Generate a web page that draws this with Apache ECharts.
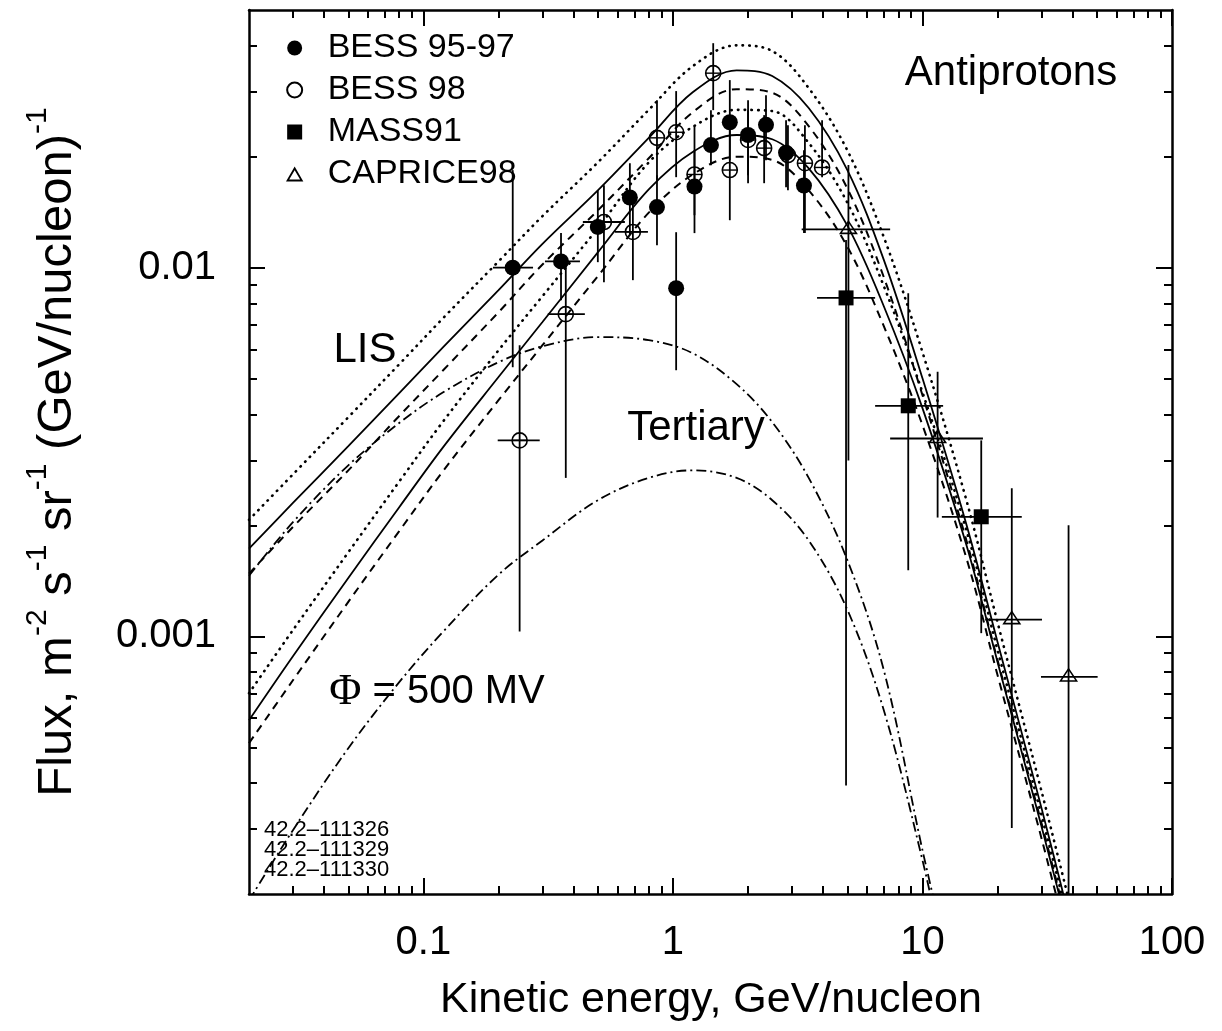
<!DOCTYPE html>
<html>
<head>
<meta charset="utf-8">
<title>Antiprotons</title>
<script src="https://cdn.jsdelivr.net/npm/echarts@6/dist/echarts.min.js"></script>
<style>
  html, body { margin: 0; padding: 0; background: #ffffff; }
  #chart { width: 1222px; height: 1031px; }
</style>
</head>
<body>
<div id="chart"></div>
<script>
// ---- Model curves (flux in m^-2 s^-1 sr^-1 (GeV/nucleon)^-1) ----
const curveEnergy = [0.02, 0.03, 0.05, 0.08, 0.12, 0.2, 0.3, 0.5, 0.8, 1.2, 1.8, 2.5, 3.5, 5, 7, 10, 15, 20, 30, 40];

// local interstellar spectra
const lisDotted = [0.00207, 0.00275, 0.00393, 0.00547, 0.0073, 0.0104, 0.0138, 0.0193, 0.0268, 0.0352, 0.0401, 0.0387, 0.0307, 0.0208, 0.0121, 0.0059, 0.00234, 0.00109, 0.00038, 0.000175];
const lisSolid  = [0.00173, 0.0023, 0.00328, 0.00457, 0.00609, 0.00869, 0.0116, 0.0162, 0.0225, 0.0299, 0.0343, 0.0331, 0.0271, 0.0184, 0.0105, 0.00501, 0.00201, 0.000964, 0.000342, 0.000158];
const lisDashed = [0.00148, 0.00198, 0.00282, 0.00396, 0.00527, 0.00757, 0.0102, 0.0143, 0.0198, 0.0264, 0.0305, 0.0298, 0.0242, 0.0164, 0.00942, 0.00451, 0.00182, 0.000861, 0.000311, 0.000145];

// modulated spectra, Phi = 500 MV
const modDotted = [0.000701, 0.00104, 0.00169, 0.00263, 0.00383, 0.00597, 0.00837, 0.0128, 0.0193, 0.0241, 0.0268, 0.0266, 0.0218, 0.015, 0.00891, 0.00459, 0.00194, 0.000917, 0.000327, 0.000152];
const modSolid  = [0.000592, 0.000883, 0.00144, 0.00224, 0.00326, 0.00505, 0.00712, 0.011, 0.0163, 0.0206, 0.0229, 0.0223, 0.0186, 0.013, 0.00786, 0.00416, 0.00177, 0.000851, 0.000305, 0.000143];
const modDashed = [0.000513, 0.00076, 0.00124, 0.00193, 0.00281, 0.00437, 0.00616, 0.00948, 0.0141, 0.0179, 0.02, 0.0196, 0.0162, 0.0114, 0.00694, 0.00374, 0.00163, 0.000784, 0.000283, 0.000132];

// tertiary component (interstellar and modulated)
const tertiaryEnergy = [0.02, 0.03, 0.05, 0.08, 0.12, 0.2, 0.3, 0.5, 0.8, 1.2, 1.8, 2.5, 3.5, 5, 7, 10, 12];
const tertiaryLis = [0.00146, 0.00204, 0.00291, 0.00379, 0.00459, 0.00554, 0.00612, 0.00648, 0.00636, 0.00586, 0.00483, 0.00381, 0.00269, 0.00161, 0.000809, 0.000263, 0.000155];
const tertiaryMod = [0.000192, 0.000298, 0.000497, 0.000751, 0.00103, 0.00147, 0.00182, 0.00234, 0.00269, 0.00282, 0.00269, 0.00234, 0.00182, 0.00118, 0.00063, 0.000247, 0.000141];

// ---- Measurements ----
const bess9597Energy = [0.228, 0.356, 0.50, 0.672, 0.863, 1.03, 1.22, 1.42, 1.69, 2.00, 2.36, 2.84, 3.35];
const bess9597Flux   = [0.0100, 0.0104, 0.0129, 0.0155, 0.0146, 0.0088, 0.0166, 0.0215, 0.0248, 0.0229, 0.0244, 0.0205, 0.0167];
const bess9597Low    = [0.00537, 0.00816, 0.01035, 0.01225, 0.01151, 0.00527, 0.01241, 0.01897, 0.01957, 0.01695, 0.01957, 0.01653, 0.01241];
const bess9597High   = [0.01839, 0.01241, 0.01623, 0.0192, 0.01781, 0.01248, 0.02083, 0.02675, 0.03227, 0.02847, 0.02938, 0.02512, 0.02083];
const bess9597ELow   = [0.19, 0.307, null, null, null, null, null, null, null, null, null, null, null];
const bess9597EHigh  = [0.275, 0.424, null, null, null, null, null, null, null, null, null, null, null];

const bess98Energy = [0.243, 0.372, 0.529, 0.691, 0.863, 1.03, 1.22, 1.45, 1.69, 2.00, 2.32, 2.89, 3.38, 3.96];
const bess98Flux   = [0.0034, 0.00748, 0.0133, 0.0125, 0.0225, 0.0233, 0.0179, 0.0337, 0.0184, 0.0222, 0.0211, 0.0202, 0.0192, 0.0187];
const bess98Low    = [0.00103, 0.00269, 0.00913, 0.00925, 0.01728, 0.0176, 0.01388, 0.02675, 0.01345, 0.01781, 0.01695, 0.01623, 0.01241, 0.0176];
const bess98High   = [0.00616, 0.01035, 0.01674, 0.01573, 0.02847, 0.03013, 0.02421, 0.04064, 0.0236, 0.02675, 0.02593, 0.02435, 0.02435, 0.02512];
const bess98ELow   = [0.1985, 0.315, 0.4355, 0.585, null, null, null, null, null, null, null, null, null, null];
const bess98EHigh  = [0.2925, 0.4436, 0.6418, 0.794, null, null, null, null, null, null, null, null, null, null];

const mass91Energy = [4.94, 8.77, 17.2];
const mass91Flux   = [0.00828, 0.00422, 0.00211];
const mass91Low    = [0.000394, 0.00151, 0.00102];
const mass91High   = [0.01188, 0.00853, 0.0034];
const mass91ELow   = [3.78, 6.46, 11.96];
const mass91EHigh  = [6.46, 12.1, 25.0];

const caprice98Energy = [5.05, 11.5, 22.8, 38.5];
const caprice98Flux   = [0.0127, 0.00344, 0.00111, 0.000776];
const caprice98Low    = [0.003, 0.0021, 0.000302, 0.0001];
const caprice98High   = [0.019, 0.00522, 0.00252, 0.002];
const caprice98ELow   = [3.28, 7.42, 17.84, 29.85];
const caprice98EHigh  = [7.42, 17.47, 30.13, 50.35];

// ---- Axis ticks ----
const xMajorTicks = [0.1, 1, 10, 100];
const xMinorTicks = [0.03, 0.04, 0.05, 0.06, 0.07, 0.08, 0.09,
                     0.2, 0.3, 0.4, 0.5, 0.6, 0.7, 0.8, 0.9,
                     2, 3, 4, 5, 6, 7, 8, 9,
                     20, 30, 40, 50, 60, 70, 80, 90];
const yMajorTicks = [0.001, 0.01];
const yMinorTicks = [0.0003, 0.0004, 0.0005, 0.0006, 0.0007, 0.0008, 0.0009,
                     0.002, 0.003, 0.004, 0.005, 0.006, 0.007, 0.008, 0.009,
                     0.02, 0.03, 0.04];

const FONT = 'Liberation Sans, Arial, Helvetica, sans-serif';
const SERIF = 'Liberation Serif, DejaVu Serif, serif';
const INK = '#000000';

function pairs(xs, ys) { return xs.map((x, i) => [x, ys[i]]); }
function rows(e, f, lo, hi, el, eh) {
  return e.map((x, i) => [x, f[i], lo[i], hi[i], el[i] == null ? NaN : el[i], eh[i] == null ? NaN : eh[i]]);
}

function marker(kind, c) {
  const x = c[0], y = c[1];
  if (kind === 'disc') {
    return { type: 'circle', shape: { cx: x, cy: y, r: 8 }, style: { fill: INK } };
  }
  if (kind === 'ring') {
    return { type: 'group', children: [
      { type: 'circle', shape: { cx: x, cy: y, r: 7.5 }, style: { fill: 'none', stroke: INK, lineWidth: 1.6 } },
      { type: 'line', shape: { x1: x - 7.5, y1: y, x2: x + 7.5, y2: y }, style: { stroke: INK, lineWidth: 1.4 } }
    ] };
  }
  if (kind === 'square') {
    return { type: 'rect', shape: { x: x - 7.5, y: y - 7.5, width: 15, height: 15 }, style: { fill: INK } };
  }
  return { type: 'polygon', shape: { points: [[x, y - 8], [x - 8, y + 4], [x + 8, y + 4]] },
           style: { fill: 'none', stroke: INK, lineWidth: 1.6 } };
}

function pointsWithBars(kind) {
  return function (params, api) {
    const e = api.value(0), f = api.value(1);
    const lo = api.value(2), hi = api.value(3);
    const el = api.value(4), eh = api.value(5);
    const c = api.coord([e, f]);
    const bar = { stroke: INK, lineWidth: 1.8 };
    const children = [];
    if (isFinite(lo) && isFinite(hi)) {
      const top = api.coord([e, hi]), bottom = api.coord([e, lo]);
      children.push({ type: 'line', shape: { x1: c[0], y1: top[1], x2: c[0], y2: bottom[1] }, style: bar });
    }
    if (isFinite(el) && isFinite(eh)) {
      const left = api.coord([el, f]), right = api.coord([eh, f]);
      children.push({ type: 'line', shape: { x1: left[0], y1: c[1], x2: right[0], y2: c[1] }, style: bar });
    }
    children.push(marker(kind, c));
    return { type: 'group', children: children };
  };
}

function curve(name, energy, flux, type, width, cap) {
  return {
    name: name, type: 'line', xAxisIndex: 0, yAxisIndex: 0,
    data: pairs(energy, flux), showSymbol: false, smooth: 0.35,
    silent: true, z: 2,
    lineStyle: { color: INK, width: width, type: type, cap: cap || 'butt' }
  };
}

function dataSeries(name, data, kind) {
  return {
    name: name, type: 'custom', xAxisIndex: 0, yAxisIndex: 0,
    data: data, encode: { x: 0, y: 1 }, clip: true, z: 5,
    itemStyle: { color: INK },
    renderItem: pointsWithBars(kind)
  };
}

const dotted = [0.5, 6.2];
const dashed = [8, 6];
const dashDot = [10, 4, 2, 4];

function logAxis(base) {
  return Object.assign({
    type: 'log', logBase: 10,
    splitLine: { show: false },
    axisLine: { show: false },
    axisTick: { show: false },
    axisLabel: { show: false }
  }, base);
}

function label(text, x, y, size) {
  return { type: 'text', x: x, y: y, silent: true,
    style: { text: text, fontFamily: FONT, fontSize: size, fill: INK, align: 'center', verticalAlign: 'middle' } };
}

const gridRect = { left: 249, right: 50, top: 10, bottom: 137, containLabel: false, outerBoundsMode: 'none' };

const option = {
  animation: false,
  backgroundColor: '#ffffff',
  textStyle: { fontFamily: FONT, color: INK },
  grid: [Object.assign({}, gridRect), Object.assign({}, gridRect)],
  xAxis: [
    logAxis({ gridIndex: 0, position: 'bottom', min: 0.02, max: 100,
      axisLine: { show: true, onZero: false, lineStyle: { color: INK, width: 2.5 } },
      axisTick: { show: true, inside: true, length: 16, customValues: xMajorTicks, lineStyle: { color: INK, width: 2 } },
      axisLabel: { show: true, customValues: xMajorTicks, margin: 29, fontSize: 40, fontFamily: FONT, color: INK,
        formatter: v => String(+Number(v).toPrecision(3)) } }),
    logAxis({ gridIndex: 0, position: 'top', min: 0.02, max: 100,
      axisLine: { show: true, onZero: false, lineStyle: { color: INK, width: 2.5 } },
      axisTick: { show: true, inside: true, length: 16, customValues: xMajorTicks, lineStyle: { color: INK, width: 2 } } }),
    logAxis({ gridIndex: 1, position: 'bottom', min: 0.02, max: 100,
      axisTick: { show: true, inside: true, length: 8, customValues: xMinorTicks, lineStyle: { color: INK, width: 2 } } }),
    logAxis({ gridIndex: 1, position: 'top', min: 0.02, max: 100,
      axisTick: { show: true, inside: true, length: 8, customValues: xMinorTicks, lineStyle: { color: INK, width: 2 } } })
  ],
  yAxis: [
    logAxis({ gridIndex: 0, position: 'left', min: 0.0002, max: 0.05,
      axisLine: { show: true, onZero: false, lineStyle: { color: INK, width: 2.5 } },
      axisTick: { show: true, inside: true, length: 16, customValues: yMajorTicks, lineStyle: { color: INK, width: 2 } },
      axisLabel: { show: true, customValues: yMajorTicks, margin: 33, fontSize: 40, fontFamily: FONT, color: INK,
        formatter: v => String(+Number(v).toPrecision(3)) } }),
    logAxis({ gridIndex: 0, position: 'right', min: 0.0002, max: 0.05,
      axisLine: { show: true, onZero: false, lineStyle: { color: INK, width: 2.5 } },
      axisTick: { show: true, inside: true, length: 16, customValues: yMajorTicks, lineStyle: { color: INK, width: 2 } } }),
    logAxis({ gridIndex: 1, position: 'left', min: 0.0002, max: 0.05,
      axisTick: { show: true, inside: true, length: 8, customValues: yMinorTicks, lineStyle: { color: INK, width: 2 } } }),
    logAxis({ gridIndex: 1, position: 'right', min: 0.0002, max: 0.05,
      axisTick: { show: true, inside: true, length: 8, customValues: yMinorTicks, lineStyle: { color: INK, width: 2 } } })
  ],
  legend: {
    orient: 'vertical', left: 281, top: 26,
    itemWidth: 56, itemHeight: 15, itemGap: 8,
    selectedMode: false,
    textStyle: { fontFamily: FONT, fontSize: 34, color: INK, lineHeight: 34 },
    data: [
      { name: 'BESS 95-97', icon: 'circle', itemStyle: { color: INK } },
      { name: 'BESS 98', icon: 'emptyCircle', itemStyle: { color: INK, borderColor: INK } },
      { name: 'MASS91', icon: 'path://M0,0L10,0L10,10L0,10Z', itemStyle: { color: INK } },
      { name: 'CAPRICE98', icon: 'path://M5,0L10,8.66L0,8.66Z M5,2.1L1.85,7.56L8.15,7.56Z', itemStyle: { color: INK } }
    ]
  },
  graphic: [
    label('Antiprotons', 1011, 73, 42),
    label('LIS', 365, 350, 42),
    label('Tertiary', 696, 428, 42),
    { type: 'text', x: 437, y: 692, silent: true,
      style: { text: '{p|Φ} = 500 MV', fontFamily: FONT, fontSize: 40, fill: INK, align: 'center', verticalAlign: 'middle',
        rich: { p: { fontFamily: SERIF, fontSize: 44, fill: INK } } } },
    { type: 'text', x: 264, y: 830, silent: true,
      style: { text: '42.2–111326', fontFamily: FONT, fontSize: 22, fill: INK, align: 'left', verticalAlign: 'middle' } },
    { type: 'text', x: 264, y: 850, silent: true,
      style: { text: '42.2–111329', fontFamily: FONT, fontSize: 22, fill: INK, align: 'left', verticalAlign: 'middle' } },
    { type: 'text', x: 264, y: 870, silent: true,
      style: { text: '42.2–111330', fontFamily: FONT, fontSize: 22, fill: INK, align: 'left', verticalAlign: 'middle' } },
    label('Kinetic energy, GeV/nucleon', 711, 1000, 43),
    { type: 'text', x: 57, y: 452, rotation: Math.PI / 2, silent: true,
      style: { text: 'Flux, m{s|-2} s{s|-1} sr{s|-1} (GeV/nucleon){s|-1}', fontFamily: FONT, fontSize: 49, fill: INK,
        align: 'center', verticalAlign: 'middle',
        rich: { s: { fontFamily: FONT, fontSize: 30, fill: INK, padding: [0, 0, 38, 0] } } } }
  ],
  series: [
    curve('LIS dotted', curveEnergy, lisDotted, dotted, 2.6, 'round'),
    curve('LIS solid', curveEnergy, lisSolid, 'solid', 1.8),
    curve('LIS dashed', curveEnergy, lisDashed, dashed, 2),
    curve('Modulated dotted', curveEnergy, modDotted, dotted, 2.6, 'round'),
    curve('Modulated solid', curveEnergy, modSolid, 'solid', 1.8),
    curve('Modulated dashed', curveEnergy, modDashed, dashed, 2),
    curve('Tertiary LIS', tertiaryEnergy, tertiaryLis, dashDot, 1.8),
    curve('Tertiary modulated', tertiaryEnergy, tertiaryMod, dashDot, 1.8),
    dataSeries('BESS 95-97', rows(bess9597Energy, bess9597Flux, bess9597Low, bess9597High, bess9597ELow, bess9597EHigh), 'disc'),
    dataSeries('BESS 98', rows(bess98Energy, bess98Flux, bess98Low, bess98High, bess98ELow, bess98EHigh), 'ring'),
    dataSeries('MASS91', rows(mass91Energy, mass91Flux, mass91Low, mass91High, mass91ELow, mass91EHigh), 'square'),
    dataSeries('CAPRICE98', rows(caprice98Energy, caprice98Flux, caprice98Low, caprice98High, caprice98ELow, caprice98EHigh), 'triangle')
  ]
};

const chart = echarts.init(document.getElementById('chart'), null, { renderer: 'canvas' });
chart.setOption(option);
</script>
</body>
</html>
